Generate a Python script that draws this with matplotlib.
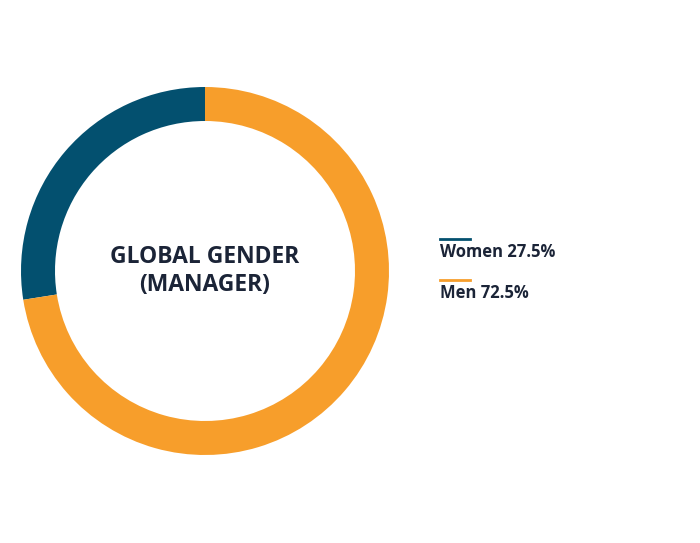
import matplotlib.pyplot as plt

labels = ["Women", "Men"]
values = [27.5, 72.5]
colors = ["#03506f", "#f79e2b"]
title_text = "GLOBAL GENDER\n(MANAGER)"

fig = plt.figure(figsize=(7.0, 5.43), dpi=100)
# donut axes: center ~ (205, 271) px, outer radius ~184 px
ax = fig.add_axes([(205 - 184) / 700, 1 - (271 + 184) / 543, 368 / 700, 368 / 543])
ax.pie(values, colors=colors, startangle=90, counterclock=True,
       wedgeprops=dict(width=34 / 184, edgecolor="none"),
       radius=1.0)
ax.set_xlim(-1, 1)
ax.set_ylim(-1, 1)
ax.set_aspect("equal")
ax.axis("off")
ax.text(0, 0, title_text, ha="center", va="center", fontsize=16.5,
        fontweight="bold", color="#1b2437", family="Open Sans", linespacing=1.25)

for i, (lab, val, col) in enumerate(zip(labels, values, colors)):
    y_line = 1 - (239 + 41 * i) / 543
    y_txt = 1 - (252 + 41 * i) / 543
    fig.add_artist(plt.Line2D([440 / 700, 470 / 700], [y_line, y_line],
                              color=col, lw=2, transform=fig.transFigure))
    fig.text(440 / 700, y_txt, f"{lab} {val}%", ha="left", va="center",
             fontsize=12, fontweight="bold", color="#1b2437", family="Open Sans")

fig.savefig("out.png", dpi=100)
